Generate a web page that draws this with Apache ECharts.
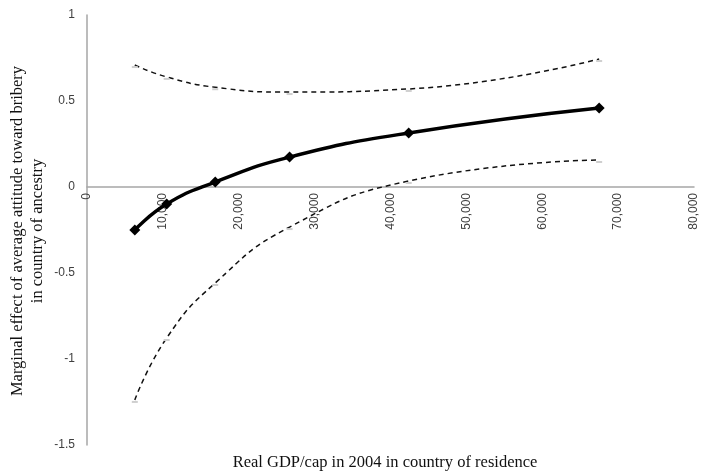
<!DOCTYPE html>
<html>
<head>
<meta charset="utf-8">
<script src="https://cdn.jsdelivr.net/npm/echarts@6/dist/echarts.min.js"></script>
<style>
  html, body { margin: 0; padding: 0; background: #fff; }
  #chart { width: 704px; height: 473px; }
</style>
</head>
<body>
<div id="chart"></div>
<script>
// Real GDP per capita (2004) at which the marginal effect is evaluated
const gdpPerCap = [6300, 10500, 16900, 26700, 42400, 67500];
// Marginal effect estimate and its confidence band
const marginalEffect = [-0.25, -0.099, 0.029, 0.174, 0.314, 0.459];
const upperBound = [0.709, 0.64, 0.58, 0.552, 0.57, 0.744];
const lowerBound = [-1.238, -0.878, -0.558, -0.233, 0.035, 0.157];
// Axis ticks
const xTicks = { min: 0, max: 80000, step: 10000 };
const yTicks = { min: -1.5, max: 1, step: 0.5 };

const pairs = (xs, ys) => xs.map((x, i) => [x, ys[i]]);

const GRID = { left: 87, right: 10, top: 15, bottom: 28 };
const plotH = 473 - GRID.top - GRID.bottom;
// pixel distance from the bottom of the plot up to y = 0
const zeroLift = plotH * (0 - yTicks.min) / (yTicks.max - yTicks.min);

const chart = echarts.init(document.getElementById('chart'), null, { renderer: 'canvas' });

const boundSeries = (values) => ({
  type: 'line',
  data: pairs(gdpPerCap, values),
  smooth: true,
  symbol: 'rect',
  symbolSize: [6, 2],
  symbolOffset: [0, 2],
  itemStyle: { color: '#cfcfcf' },
  lineStyle: { color: '#111', width: 1.5, type: [5, 4] },
  z: 2
});

const axisLabelStyle = {
  color: '#404040',
  fontFamily: 'Liberation Sans',
  fontSize: 12
};

chart.setOption({
  animation: false,
  grid: Object.assign({ containLabel: false, outerBoundsMode: 'none' }, GRID),
  xAxis: {
    type: 'value',
    min: xTicks.min,
    max: xTicks.max,
    interval: xTicks.step,
    offset: -zeroLift,
    axisLine: { onZero: false, lineStyle: { color: '#a6a6a6', width: 1.5 } },
    axisTick: { show: false },
    splitLine: { show: false },
    axisLabel: Object.assign({
      rotate: 90,
      margin: 6,
      formatter: (v) => v.toLocaleString('en-US')
    }, axisLabelStyle)
  },
  yAxis: {
    type: 'value',
    min: yTicks.min,
    max: yTicks.max,
    interval: yTicks.step,
    axisLine: { show: true, lineStyle: { color: '#a6a6a6', width: 1.5 } },
    axisTick: { show: false },
    splitLine: { show: false },
    axisLabel: Object.assign({ margin: 12 }, axisLabelStyle)
  },
  graphic: [
    {
      type: 'text',
      x: 28,
      y: 231,
      rotation: Math.PI / 2,
      style: {
        text: 'Marginal effect of average attitude toward bribery\nin country of ancestry',
        fill: '#111',
        font: '16.5px "Liberation Serif"',
        lineHeight: 20,
        textAlign: 'center',
        textVerticalAlign: 'middle'
      }
    },
    {
      type: 'text',
      x: 385,
      y: 463,
      style: {
        text: 'Real GDP/cap in 2004 in country of residence',
        fill: '#111',
        font: '16.5px "Liberation Serif"',
        textAlign: 'center',
        textVerticalAlign: 'middle'
      }
    }
  ],
  series: [
    boundSeries(upperBound),
    boundSeries(lowerBound),
    {
      type: 'line',
      data: pairs(gdpPerCap, marginalEffect),
      smooth: true,
      symbol: 'diamond',
      symbolSize: 11,
      itemStyle: { color: '#000' },
      lineStyle: { color: '#000', width: 3.5 },
      z: 3
    }
  ]
});
</script>
</body>
</html>
